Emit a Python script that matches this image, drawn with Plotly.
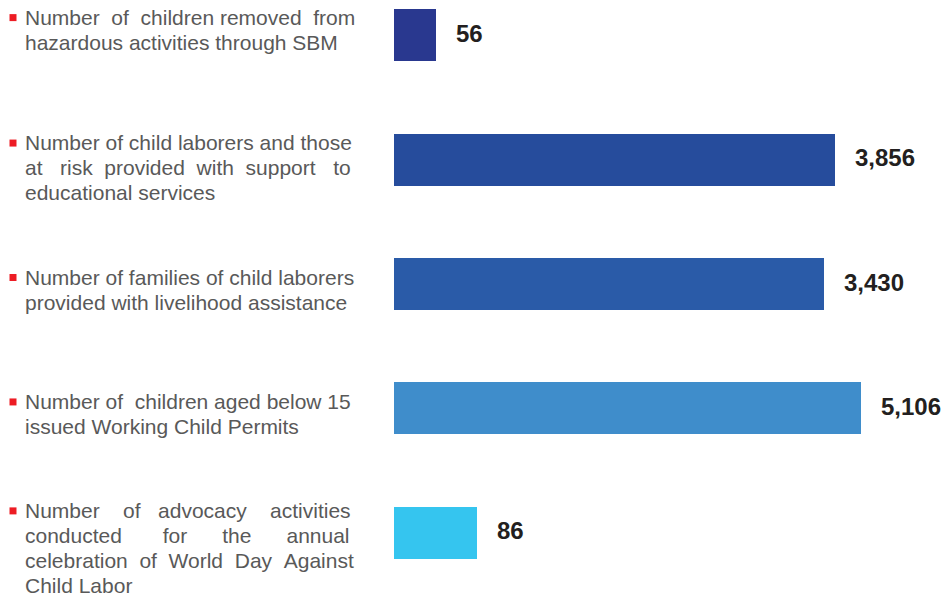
import numpy as np
import plotly.graph_objects as go

# ---------------- data ----------------
label_lines = [
    ["Number of children removed from", "hazardous activities through SBM"],
    ["Number of child laborers and those", "at risk provided with support to", "educational services"],
    ["Number of families of child laborers", "provided with livelihood assistance"],
    ["Number of children aged below 15", "issued Working Child Permits"],
    ["Number of advocacy activities", "conducted for the annual",
     "celebration of World Day Against", "Child Labor"],
]
values = [56, 3856, 3430, 5106, 86]
value_text = ["56", "3,856", "3,430", "5,106", "86"]
bar_colors = ["#29388F", "#264C9C", "#2A5BA8", "#3F8DCB", "#35C5EF"]

# ---------------- layout helpers (styling only) ----------------
# extra non-breaking spaces per word gap, to imitate justified text
pad = [
    [[1, 1, 0, 1], [0, 0, 0]],
    [[0, 0, 0, 0, 0], [2, 1, 1, 1, 2], [0]],
    [[0, 0, 0, 0, 0], [0, 0, 0]],
    [[0, 1, 0, 0, 0], [0, 0, 0]],
    [[3, 2, 3], [6, 5, 5], [1, 1, 1, 1], [0]],
]
first_line_offset = [-19, -18, -8, -8, -23.5]   # px from bar centre to first text line centre
LINE_H = 25


def justify(line, extras):
    words = line.split(" ")
    out = words[0]
    for w, e in zip(words[1:], extras):
        out += " " + "\u00a0" * e + w
    return out


FONT = "Liberation Sans, Arial, sans-serif"
W, H = 948, 597
L, R, T, B = 394, 8, 4, 33
plot_w = W - L - R
x_lo = 1.554
px_per_decade = 217.0
x_hi = x_lo + plot_w / px_per_decade

n = len(values)
fig = go.Figure()
fig.add_trace(go.Bar(
    y=list(range(n)), x=values, orientation="h",
    marker=dict(color=bar_colors, line=dict(width=0)),
    width=0.418, hoverinfo="skip",
))

annotations = []
shapes = []
label_x = (23 - L) / plot_w
for i in range(n):
    off = first_line_offset[i]
    for k, (line, p) in enumerate(zip(label_lines[i], pad[i])):
        annotations.append(dict(
            xref="paper", yref="y", x=label_x, y=i, xanchor="left", yanchor="middle",
            yshift=-(off + k * LINE_H + 1), text=justify(line, p), showarrow=False,
            align="left", font=dict(family=FONT, size=21, color="#595959"),
        ))
    annotations.append(dict(
        xref="x", yref="y", x=np.log10(values[i]), y=i, xanchor="left", yanchor="middle",
        xshift=18, yshift=2, text="<b>%s</b>" % value_text[i], showarrow=False,
        font=dict(family=FONT, size=24, color="#231F20"),
    ))
    shapes.append(dict(
        type="rect", xref="paper", yref="y", xsizemode="pixel", ysizemode="pixel",
        xanchor=(13 - L) / plot_w, yanchor=i, x0=-3.5, x1=3.5,
        y0=-off - 5, y1=-off + 2, fillcolor="#ED1C24", line=dict(width=0),
    ))

fig.update_layout(
    width=W, height=H,
    margin=dict(l=L, r=R, t=T, b=B, pad=0),
    paper_bgcolor="white", plot_bgcolor="white",
    showlegend=False,
    xaxis=dict(type="log", range=[x_lo, x_hi], visible=False, fixedrange=True),
    yaxis=dict(range=[n - 1 + 0.25, -0.25], visible=False, fixedrange=True),
    annotations=annotations, shapes=shapes,
    bargap=0,
)

fig.write_html("out.html", config={"displayModeBar": False},
               post_script="document.body.style.margin='0px';")
